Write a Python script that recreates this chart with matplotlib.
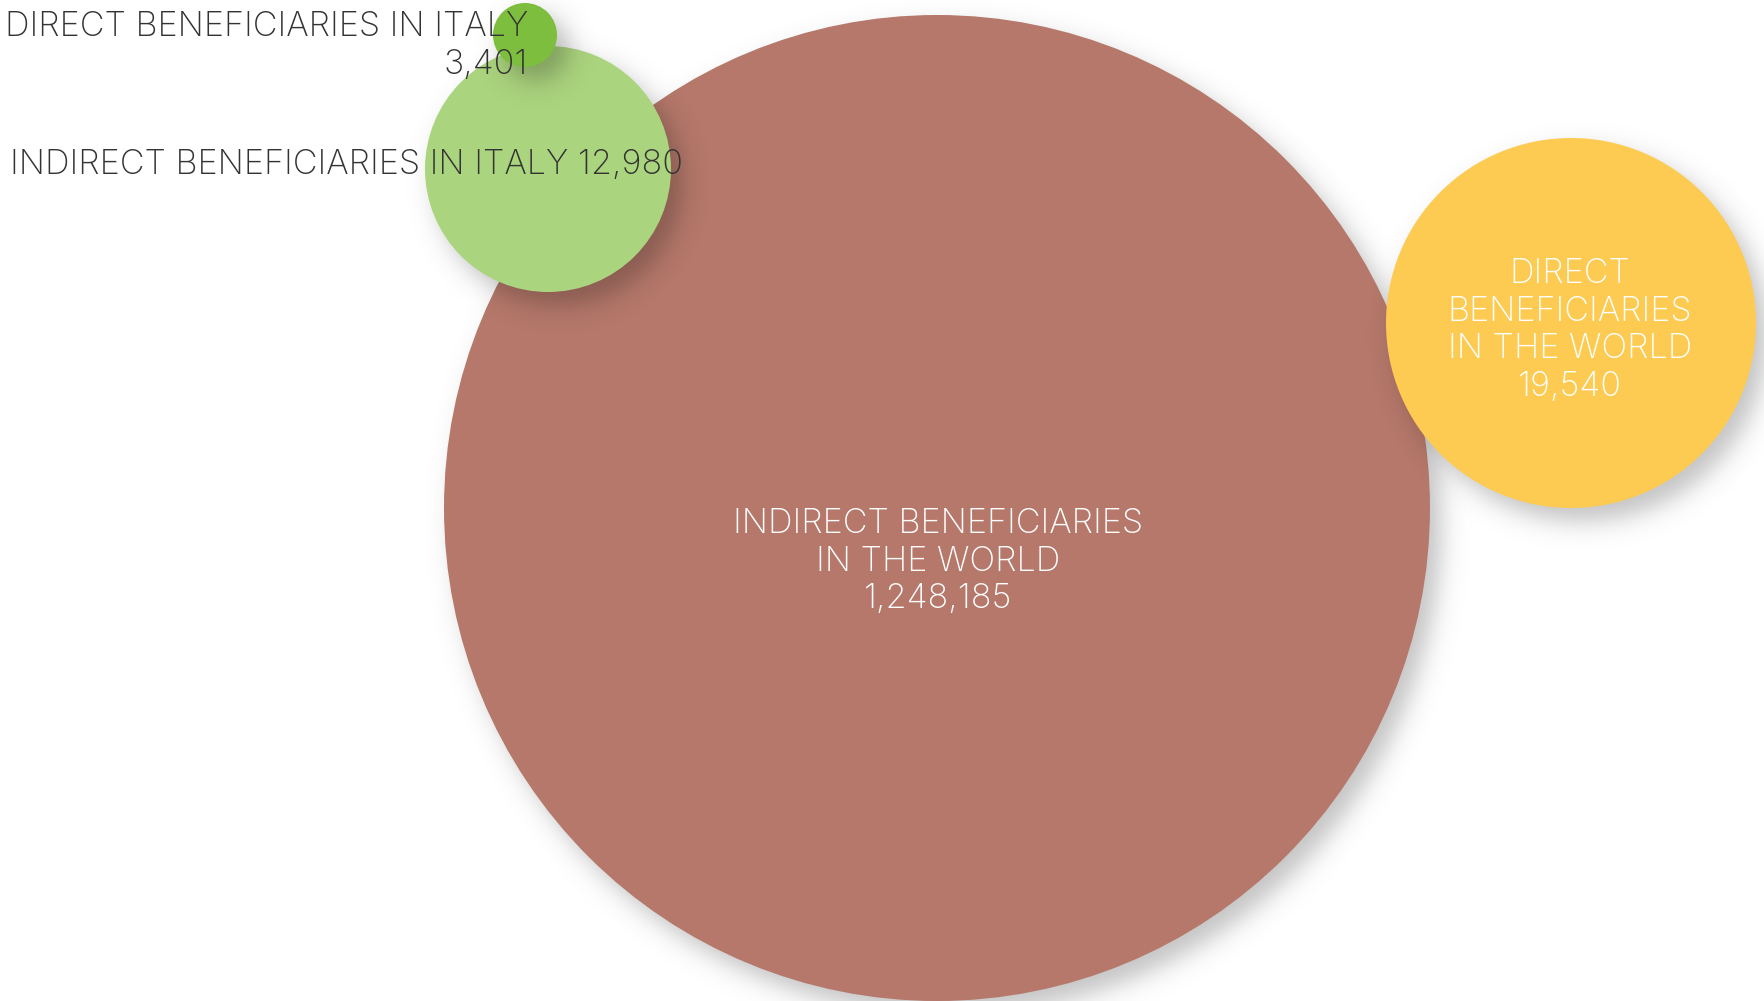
import matplotlib.pyplot as plt
import numpy as np

# data
labels = ["INDIRECT BENEFICIARIES\nIN THE WORLD",
          "DIRECT\nBENEFICIARIES\nIN THE WORLD",
          "INDIRECT BENEFICIARIES IN ITALY",
          "DIRECT BENEFICIARIES IN ITALY"]
values = [1248185, 19540, 12980, 3401]

# layout (pixels, y down)
cx = [937, 1571, 548, 525]
cy = [508, 323, 169, 35]
rad = [493, 185, 123, 32]
colors = ["#b5786b", "#fdca52", "#abd47e", "#7dbe3e"]
txt_colors = ["white", "white", "#333333", "#333333"]
txt_x = [938, 1570, 10, 528]
txt_y = [533, 283, 174, 36]
txt_ha = ["center", "center", "left", "right"]
joins = ["\n", "\n", " ", "\n"]
line_step = 37.6

W, H = 1764, 1001
fig = plt.figure(figsize=(W / 100, H / 100), dpi=100)
ax = fig.add_axes([0, 0, 1, 1])
ax.set_xlim(0, W)
ax.set_ylim(H, 0)
ax.axis('off')

yy, xx = np.mgrid[0:H, 0:W] + 0.5

def shadow(x, y, r, dx=11, dy=13, soft=7.5, amax=0.24):
    d = np.hypot(xx - x - dx, yy - y - dy)
    a = amax / (1 + np.exp((d - r) / soft))
    img = np.zeros((H, W, 4))
    img[..., 3] = a
    return img

z = 1
for i in range(len(values)):
    ax.imshow(shadow(cx[i], cy[i], rad[i]), extent=(0, W, H, 0), zorder=z,
              interpolation='bilinear')
    ax.add_patch(plt.Circle((cx[i], cy[i]), rad[i], color=colors[i], lw=0,
                            zorder=z + 1))
    z += 2

ax.set_xlim(0, W)
ax.set_ylim(H, 0)

for i in range(len(values)):
    text = labels[i] + joins[i] + f"{values[i]:,}"
    for k, line in enumerate(text.split("\n")):
        ax.text(txt_x[i], txt_y[i] + k * line_step, line, ha=txt_ha[i],
                va='baseline', color=txt_colors[i], fontsize=24.6,
                family='Inter', fontweight='light', zorder=20)

fig.savefig("out.png", dpi=100)
